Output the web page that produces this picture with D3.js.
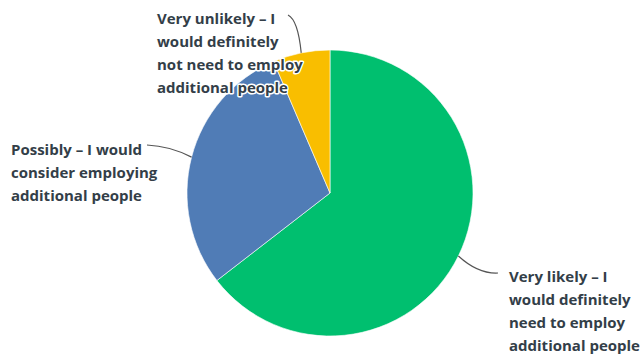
<!DOCTYPE html>
<html>
<head>
<meta charset="utf-8">
<script src="https://cdn.jsdelivr.net/npm/d3@7"></script>
<style>
  body { margin: 0; background: #fff; }
  .label { font-family: "Open Sans", sans-serif; font-weight: 700; font-size: 15px; fill: #333e48;
           stroke: #fff; stroke-width: 3px; paint-order: stroke; stroke-linejoin: round; }
  .leader { fill: none; stroke: #555; stroke-width: 1.2px; }
</style>
</head>
<body>
<svg id="drawing_region"></svg>
<script>
// answer choices, in pie order (clockwise from 12 o'clock)
const categories = [
    "Very likely – I would definitely need to employ additional people",
    "Possibly – I would consider employing additional people",
    "Very unlikely – I would definitely not need to employ additional people"
];
const percents = [ 64.52, 29.03, 6.45 ];
const label_lines = [
    [ "Very likely – I", "would definitely", "need to employ", "additional people" ],
    [ "Possibly – I would", "consider employing", "additional people" ],
    [ "Very unlikely – I", "would definitely", "not need to employ", "additional people" ]
];
const colors = [ "#00bf6f", "#507cb6", "#f9be00" ];

const width = 641, height = 354;
const cx = 330, cy = 193, radius = 143;

// label placement: text origin and the bend / end of the leader line
const label_layout = [
    { x: 509, y: 282, ctrl: [ 478, 274 ], end: [ 498, 273 ] },
    { x: 11,  y: 155, ctrl: [ 170, 146 ], end: [ 147, 145 ] },
    { x: 157, y: 24,  ctrl: [ 298, 20 ],  end: [ 288, 15 ] }
];

const data = categories.map( ( c, i ) => ({ name: c, value: percents[i], lines: label_lines[i], color: colors[i], layout: label_layout[i] }) );

const svg = d3.select( '#drawing_region' )
    .attr( 'width', width )
    .attr( 'height', height );

const chart = svg.append( 'g' )
    .attr( 'transform', `translate(${cx}, ${cy})` );

const pie = d3.pie()
    .sort( null )
    .value( d => d.value );

const arc = d3.arc()
    .innerRadius( 0 )
    .outerRadius( radius );

const arcs = pie( data );

chart.selectAll( 'path.slice' )
    .data( arcs )
    .join( 'path' )
    .attr( 'class', 'slice' )
    .attr( 'd', arc )
    .attr( 'fill', d => d.data.color )
    .attr( 'stroke', '#fff' )
    .attr( 'stroke-width', 0.6 );

// leader lines from slice edge to label
svg.selectAll( 'path.leader' )
    .data( arcs )
    .join( 'path' )
    .attr( 'class', 'leader' )
    .attr( 'd', d => {
        const a = ( d.startAngle + d.endAngle ) / 2;
        const sx = cx + radius * Math.sin( a );
        const sy = cy - radius * Math.cos( a );
        const L = d.data.layout;
        return `M${sx},${sy} Q${L.ctrl[0]},${L.ctrl[1]} ${L.end[0]},${L.end[1]}`;
    } );

const labels = svg.selectAll( 'text.label' )
    .data( arcs )
    .join( 'text' )
    .attr( 'class', 'label' )
    .attr( 'x', d => d.data.layout.x )
    .attr( 'y', d => d.data.layout.y );

labels.selectAll( 'tspan' )
    .data( d => d.data.lines.map( l => ({ text: l, x: d.data.layout.x }) ) )
    .join( 'tspan' )
    .attr( 'x', d => d.x )
    .attr( 'dy', ( d, i ) => i === 0 ? 0 : 23 )
    .text( d => d.text );
</script>
</body>
</html>
